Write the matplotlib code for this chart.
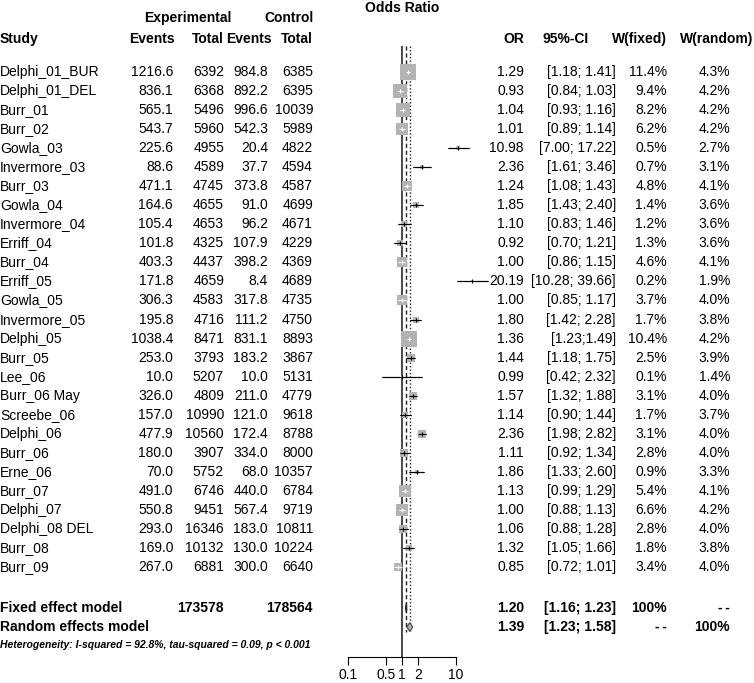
import numpy as np
import matplotlib
matplotlib.use("Agg")
import matplotlib.pyplot as plt

plt.rcParams['font.family'] = ['Liberation Sans', 'DejaVu Sans']

# 데이터
studies = ["Delphi_01_BUR", "Delphi_01_DEL", "Burr_01", "Burr_02", "Gowla_03",
           "Invermore_03", "Burr_03", "Gowla_04", "Invermore_04", "Erriff_04",
           "Burr_04", "Erriff_05", "Gowla_05", "Invermore_05", "Delphi_05",
           "Burr_05", "Lee_06", "Burr_06 May", "Screebe_06", "Delphi_06",
           "Burr_06", "Erne_06", "Burr_07", "Delphi_07", "Delphi_08 DEL",
           "Burr_08", "Burr_09"]
exp_events = [1216.6, 836.1, 565.1, 543.7, 225.6, 88.6, 471.1, 164.6, 105.4, 101.8,
              403.3, 171.8, 306.3, 195.8, 1038.4, 253.0, 10.0, 326.0, 157.0, 477.9,
              180.0, 70.0, 491.0, 550.8, 293.0, 169.0, 267.0]
exp_total = [6392, 6368, 5496, 5960, 4955, 4589, 4745, 4655, 4653, 4325,
             4437, 4659, 4583, 4716, 8471, 3793, 5207, 4809, 10990, 10560,
             3907, 5752, 6746, 9451, 16346, 10132, 6881]
ctrl_events = [984.8, 892.2, 996.6, 542.3, 20.4, 37.7, 373.8, 91.0, 96.2, 107.9,
               398.2, 8.4, 317.8, 111.2, 831.1, 183.2, 10.0, 211.0, 121.0, 172.4,
               334.0, 68.0, 440.0, 567.4, 183.0, 130.0, 300.0]
ctrl_total = [6385, 6395, 10039, 5989, 4822, 4594, 4587, 4699, 4671, 4229,
              4369, 4689, 4735, 4750, 8893, 3867, 5131, 4779, 9618, 8788,
              8000, 10357, 6784, 9719, 10811, 10224, 6640]
odds = [1.29, 0.93, 1.04, 1.01, 10.98, 2.36, 1.24, 1.85, 1.10, 0.92,
        1.00, 20.19, 1.00, 1.80, 1.36, 1.44, 0.99, 1.57, 1.14, 2.36,
        1.11, 1.86, 1.13, 1.00, 1.06, 1.32, 0.85]
ci_low = [1.18, 0.84, 0.93, 0.89, 7.00, 1.61, 1.08, 1.43, 0.83, 0.70,
          0.86, 10.28, 0.85, 1.42, 1.23, 1.18, 0.42, 1.32, 0.90, 1.98,
          0.92, 1.33, 0.99, 0.88, 0.88, 1.05, 0.72]
ci_high = [1.41, 1.03, 1.16, 1.14, 17.22, 3.46, 1.43, 2.40, 1.46, 1.21,
           1.15, 39.66, 1.17, 2.28, 1.49, 1.75, 2.32, 1.88, 1.44, 2.82,
           1.34, 2.60, 1.29, 1.13, 1.28, 1.66, 1.01]
w_fixed = [11.4, 9.4, 8.2, 6.2, 0.5, 0.7, 4.8, 1.4, 1.2, 1.3,
           4.6, 0.2, 3.7, 1.7, 10.4, 2.5, 0.1, 3.1, 1.7, 3.1,
           2.8, 0.9, 5.4, 6.6, 2.8, 1.8, 3.4]
w_random = [4.3, 4.2, 4.2, 4.2, 2.7, 3.1, 4.1, 3.6, 3.6, 3.6,
            4.1, 1.9, 4.0, 3.8, 4.2, 3.9, 1.4, 4.0, 3.7, 4.0,
            4.0, 3.3, 4.1, 4.2, 4.0, 3.8, 4.0]

fixed_or, fixed_lo, fixed_hi = 1.20, 1.16, 1.23
random_or, random_lo, random_hi = 1.39, 1.23, 1.58
axis_ticks = [0.1, 0.5, 1, 2, 10]
heterogeneity = "Heterogeneity: I-squared = 92.8%, tau-squared = 0.09, p < 0.001"

W, H = 754, 683
fig = plt.figure(figsize=(W / 100, H / 100), dpi=100)

# 텍스트용 축 (픽셀 좌표)
tx = fig.add_axes([0, 0, 1, 1])
tx.set_xlim(0, W)
tx.set_ylim(H, 0)
tx.axis('off')

row_y = [72 + 19.04 * i for i in range(len(studies))]
fixed_y, random_y, het_y = 608, 627, 645
fs = 10
dash = "-\u2009-"

# 헤더
bold = dict(fontsize=fs, fontweight='bold', va='center')
tx.text(188, 18, "Experimental", ha='center', **bold)
tx.text(314, 18, "Control", ha='right', **bold)
tx.text(0, 39, "Study", ha='left', **bold)
tx.text(175, 39, "Events", ha='right', **bold)
tx.text(224, 39, "Total", ha='right', **bold)
tx.text(272, 39, "Events", ha='right', **bold)
tx.text(313, 39, "Total", ha='right', **bold)
tx.text(402, 8, "Odds Ratio", ha='center', **bold)
tx.text(524, 39, "OR", ha='right', **bold)
tx.text(566, 39, "95%-CI", ha='center', **bold)
tx.text(667, 39, "W(fixed)", ha='right', **bold)
tx.text(753, 39, "W(random)", ha='right', **bold)

ci_text = [f"[{l:.2f}; {h:.2f}]" for l, h in zip(ci_low, ci_high)]
ci_text[studies.index("Delphi_05")] = ci_text[studies.index("Delphi_05")].replace("; ", ";")

norm = dict(fontsize=fs, va='center')
for i, y in enumerate(row_y):
    tx.text(0, y, studies[i], ha='left', **norm)
    tx.text(173, y, f"{exp_events[i]:.1f}", ha='right', **norm)
    tx.text(224, y, f"{exp_total[i]}", ha='right', **norm)
    tx.text(268, y, f"{ctrl_events[i]:.1f}", ha='right', **norm)
    tx.text(313, y, f"{ctrl_total[i]}", ha='right', **norm)
    tx.text(524, y, f"{odds[i]:.2f}", ha='right', **norm)
    tx.text(616, y, ci_text[i], ha='right', **norm)
    tx.text(667, y, f"{w_fixed[i]:.1f}%", ha='right', **norm)
    tx.text(730, y, f"{w_random[i]:.1f}%", ha='right', **norm)

# 요약 행
tx.text(0, fixed_y, "Fixed effect model", ha='left', **bold)
tx.text(224, fixed_y, f"{sum(exp_total)}", ha='right', **bold)
tx.text(313, fixed_y, f"{sum(ctrl_total)}", ha='right', **bold)
tx.text(524, fixed_y, f"{fixed_or:.2f}", ha='right', **bold)
tx.text(616, fixed_y, f"[{fixed_lo:.2f}; {fixed_hi:.2f}]", ha='right', **bold)
tx.text(667, fixed_y, "100%", ha='right', **bold)
tx.text(730, fixed_y, dash, ha='right', **bold)
tx.text(0, random_y, "Random effects model", ha='left', **bold)
tx.text(524, random_y, f"{random_or:.2f}", ha='right', **bold)
tx.text(616, random_y, f"[{random_lo:.2f}; {random_hi:.2f}]", ha='right', **bold)
tx.text(667, random_y, dash, ha='right', **bold)
tx.text(730, random_y, "100%", ha='right', **bold)
tx.text(0, het_y, heterogeneity, ha='left', fontsize=7.5, fontweight='bold',
        style='italic', va='center')

# 포레스트 플롯 축
x0, x1, px1, pdec, axis_y = 340, 500, 402, 54, 657
ax = fig.add_axes([x0 / W, (H - axis_y) / H, (x1 - x0) / W, axis_y / H])
ax.set_xscale('log')
ax.set_xlim(10 ** ((x0 - px1) / pdec), 10 ** ((x1 - px1) / pdec))
ax.set_ylim(axis_y, 0)
ax.patch.set_alpha(0)
for s in ['top', 'left', 'right']:
    ax.spines[s].set_visible(False)
ax.spines['bottom'].set_bounds(axis_ticks[0], axis_ticks[-1])
ax.spines['bottom'].set_linewidth(0.8)
ax.set_yticks([])
ax.set_xticks(axis_ticks)
ax.set_xticklabels([f"{t:g}" for t in axis_ticks], fontsize=fs)
ax.xaxis.set_minor_locator(matplotlib.ticker.NullLocator())
ax.tick_params(axis='x', direction='out', length=6, width=0.8, pad=2)

# 기준선
ax.vlines(1, 46, axis_y, color='#4a4a4a', lw=1.4, zorder=1)
ax.vlines(fixed_or, 46, 632, color='#222222', lw=1.0, ls=(0, (3, 2)), zorder=1)
ax.vlines(random_or, 46, 632, color='#222222', lw=1.0, ls=(0, (1, 1.5)), zorder=1)

# 연구별 사각형과 신뢰구간
side_max = 16.0
for i, y in enumerate(row_y):
    side = side_max * np.sqrt(w_fixed[i] / max(w_fixed))
    ci_px = (np.log10(ci_high[i]) - np.log10(ci_low[i])) * pdec
    inside = ci_px < 0.95 * side
    if not inside:
        ax.hlines(y, ci_low[i], ci_high[i], color='black', lw=0.8, zorder=2)
    ax.scatter([odds[i]], [y], marker='s', s=(side * 0.72) ** 2,
               color='#b3b3b3', linewidths=0, zorder=3)
    c = 'white' if inside else 'black'
    ax.hlines(y, ci_low[i], ci_high[i], color=c, lw=0.8, zorder=4)
    ax.plot([odds[i]], [y], marker='|', ms=3.5, mew=0.8, color=c, zorder=5)

# 요약 다이아몬드
dh = 4.5
ax.fill([fixed_lo, fixed_or, fixed_hi, fixed_or],
        [fixed_y, fixed_y - dh, fixed_y, fixed_y + dh],
        facecolor='#666666', edgecolor='#222222', lw=0.8, zorder=3)
ax.fill([random_lo, random_or, random_hi, random_or],
        [random_y, random_y - dh, random_y, random_y + dh],
        facecolor='#b3b3b3', edgecolor='#444444', lw=0.8, zorder=3)

plt.savefig("out.png", dpi=100)
